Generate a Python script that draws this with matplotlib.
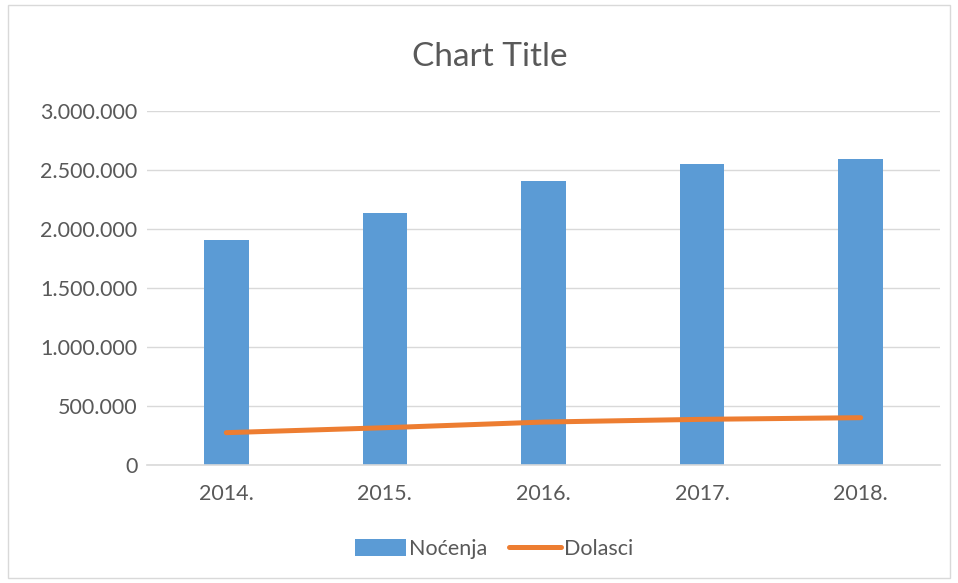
import matplotlib
matplotlib.use("Agg")
import matplotlib.pyplot as plt
from matplotlib.patches import Rectangle
from matplotlib.ticker import FuncFormatter

years = ["2014.", "2015.", "2016.", "2017.", "2018."]
nocenja = [1907000, 2136000, 2407000, 2551000, 2593000]
dolasci = [274000, 316000, 364000, 387000, 401000]

plt.rcParams['font.family'] = ['Lato', 'DejaVu Sans']
txt = "#595959"

W, H = 958, 583
fig = plt.figure(figsize=(W/100, H/100), dpi=100)
fig.patches.append(Rectangle((8/W, 5/H), 942/W, 573/H, transform=fig.transFigure,
                             fill=False, edgecolor="#d9d9d9", linewidth=1))
ax = fig.add_axes([147/W, 1-465/H, (940-147)/W, (465-111)/H])

x = list(range(len(years)))
bars = ax.bar(x, nocenja, width=0.28, color="#5b9bd5", label="Noćenja", zorder=2)
line, = ax.plot(x, dolasci, color="#ed7d31", linewidth=3.6, solid_capstyle="round", label="Dolasci", zorder=3)

ax.set_xlim(-0.5, len(years)-0.5)
ax.set_ylim(0, 3000000)
ax.set_yticks(range(0, 3000001, 500000))
ax.yaxis.set_major_formatter(FuncFormatter(lambda v, p: f"{int(v):,}".replace(",", ".")))
ax.set_xticks(x)
ax.set_xticklabels(years)
ax.tick_params(axis='both', length=0, labelsize=15.5, colors=txt)
ax.tick_params(axis='y', pad=7)
ax.tick_params(axis='x', pad=14)
ax.grid(axis='y', color="#d9d9d9", linewidth=1, zorder=0)
for s in ["top", "right", "left"]:
    ax.spines[s].set_visible(False)
ax.spines["bottom"].set_color("#d9d9d9")
ax.spines["bottom"].set_linewidth(1.2)

fig.text(490/W, 1-57/H, "Chart Title", ha="center", va="center", fontsize=24, color=txt)
leg = fig.legend([bars, line], ["Noćenja", "Dolasci"], loc="center",
                 bbox_to_anchor=(494/W, 1-549/H), ncol=2, frameon=False,
                 fontsize=15.5, labelcolor=txt, handlelength=2.4, handleheight=0.85,
                 handletextpad=0.15, columnspacing=1.0)
fig.savefig("out.png", dpi=100)
